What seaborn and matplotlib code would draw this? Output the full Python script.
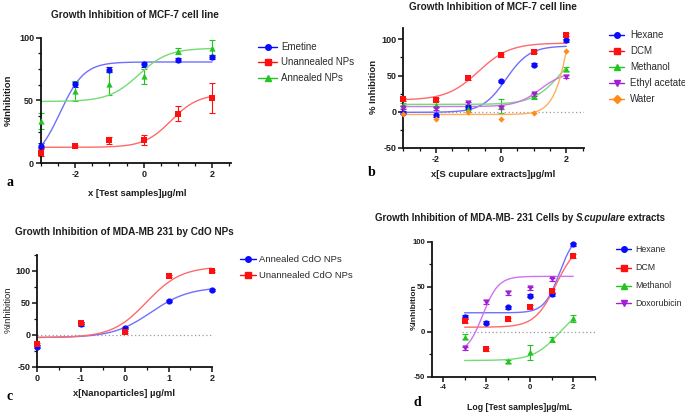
import numpy as np
import pandas as pd
import matplotlib
matplotlib.use('Agg')
import matplotlib.pyplot as plt
import seaborn as sns
from matplotlib.lines import Line2D
from matplotlib.ticker import MultipleLocator, FixedLocator

# ---------------- data ----------------
# Panel a: MCF-7, nanoparticles
xa = [-3, -2, -1, 0, 1, 2]
a_emetine = [13.6, 62.8, 74.5, 78.5, 82.0, 84.3]
a_emetine_err = [2, 2, 2, 2, 1.5, 1.5]
a_unann = [8.2, 13.6, 18.0, 18.0, 39.4, 52.0]
a_unann_err = [3, 1, 3, 4, 6, 12]
a_ann = [33.5, 57.2, 63.3, 69.1, 89.0, 92.0]
a_ann_err = [6.5, 8, 9, 6, 2.5, 6]
# fitted 4PL params (bottom, top, logEC50, hill)
a_fit = {'Emetine': (0, 80.5, -2.44, 1.24),
         'Unannealed NPs': (12.5, 55, 0.8, 1.1),
         'Annealed NPs': (49, 91.5, -0.15, 1.0)}

# Panel b: MCF-7, S. cupulare extracts
xb = [-3, -2, -1, 0, 1, 2]
b_hexane = [-1.4, -5.0, 6.0, 42.5, 65.0, 99.0]
b_dcm = [17.3, 16.3, 46.2, 78.0, 82.6, 106.5]
b_methanol = [9.3, 8.9, 4.2, 8.0, 21.0, 59.0]
b_methanol_err = [2, 2, 2, 10, 3, 3]
b_ethyl = [5.6, 4.2, 11.7, 5.6, 24.3, 48.5]
b_water = [-3.0, -10.0, 0.0, -10.0, -2.3, 84.0]
b_fit = {'Hexane': (-1, 91, 0.15, 1.2),
         'DCM': (16, 95, -0.7, 0.9),
         'Methanol': (10, 100, 1.88, 1.0),
         'Ethyl acetate': (7, 55, 1.2, 1.2),
         'Water': (-4, 296, 2.24, 1.6)}

# Panel c: MDA-MB 231, CdO NPs
xc = [-2, -1, 0, 1, 2]
c_ann = [-18.0, 17.5, 10.4, 52.8, 70.0]
c_ann_err = [3, 3, 1.5, 1.5, 1.5]
c_unann = [-14.5, 19.0, 4.0, 92.0, 99.5]
c_fit = {'Annealed CdO NPs': (-4, 75, 0.6, 1.0),
         'Unannealed CdO NPs': (-4, 107, 0.5, 1.1)}
c_xticklabels = ['0', '-1', '0', '1', '2']

# Panel d: MDA-MB-231, S. cupulare extracts
xd = [-3, -2, -1, 0, 1, 2]
d_hexane = [16.0, 10.0, 27.0, 40.0, 41.5, 97.0]
d_dcm = [11.9, -19.6, 13.7, 27.8, 45.6, 84.0]
d_methanol = [-5.6, np.nan, -33.0, -23.0, -8.5, 14.8]
d_methanol_err = [3, np.nan, 2, 8, 3, 4]
d_doxo = [-18.5, 33.0, 43.3, 48.0, 58.0, np.nan]
d_fit = {'Hexane': (21, 110, 1.37, 1.22),
         'DCM': (5, 100, 1.21, 0.88),
         'Methanol': (-32, 30, 1.37, 0.73),
         'Doxorubicin': (-25, 61.5, -2.17, 1.2)}

# ---------------- style ----------------
sns.set_theme(style='ticks')
plt.rcParams['font.family'] = ['Liberation Sans', 'DejaVu Sans']
plt.rcParams['axes.unicode_minus'] = False
NARROW = ['Liberation Sans Narrow', 'Liberation Sans', 'DejaVu Sans']

BLUE, RED, GREEN, PURPLE, ORANGE = '#0a0aff', '#ff1010', '#22c422', '#a21fd6', '#ff8c1a'
LBLUE, LRED, LGREEN, LPURPLE, LORANGE = '#6f6fff', '#ff6a6a', '#74dc74', '#cf74ef', '#ffae5c'
TXT = '#1e1e1e'

W, H = 685, 416
fig = plt.figure(figsize=(6.85, 4.16), dpi=100)


def add_ax(x0, y0, x1, y1):
    return fig.add_axes([x0 / W, 1 - y1 / H, (x1 - x0) / W, (y1 - y0) / H])


def hill(x, b, t, e, h):
    return b + (t - b) / (1 + 10 ** ((e - x) * h))


def series(ax, x, y, err, params, mk, mc, lc, xr, ms=20):
    x = np.asarray(x, float)
    y = np.asarray(y, float)
    if err is not None:
        e = np.asarray(err, float)
        ok = ~np.isnan(y)
        eb = ax.errorbar(x[ok], y[ok], yerr=e[ok], fmt='none', ecolor=mc,
                         elinewidth=0.8, capsize=2, capthick=0.8, zorder=2)
        for art in eb.get_children():
            art.set_clip_on(False)
    xx = np.linspace(xr[0], xr[1], 300)
    sns.lineplot(x=xx, y=hill(xx, *params), color=lc, lw=1.0, ax=ax,
                 estimator=None, sort=False, zorder=2)
    df = pd.DataFrame({'x': x, 'y': y}).dropna()
    sns.scatterplot(data=df, x='x', y='y', marker=mk, color=mc, s=ms,
                    linewidth=0, ax=ax, zorder=3, clip_on=False)


def style(ax, xlim, ylim, xmaj, xmin, ymaj, ymin, fam=None, lsize=6.5):
    ax.set_xlim(*xlim)
    ax.set_ylim(*ylim)
    ax.xaxis.set_major_locator(FixedLocator(xmaj))
    ax.xaxis.set_minor_locator(MultipleLocator(xmin))
    ax.yaxis.set_major_locator(FixedLocator(ymaj))
    ax.yaxis.set_minor_locator(MultipleLocator(ymin))
    for s in ['top', 'right']:
        ax.spines[s].set_visible(False)
    for s in ['left', 'bottom']:
        ax.spines[s].set_linewidth(1.3)
        ax.spines[s].set_color('#111111')
    ax.tick_params(which='major', direction='out', length=3.5, width=1.1,
                   labelsize=lsize, pad=1.5, colors='#111111', labelcolor=TXT)
    ax.tick_params(which='minor', direction='out', length=2.2, width=0.9, colors='#111111')
    for lab in ax.get_xticklabels() + ax.get_yticklabels():
        lab.set_fontweight('bold')
        if fam:
            lab.set_family(fam)
    ax.set_xlabel('')
    ax.set_ylabel('')
    ax.set_facecolor('none')
    ax.grid(False)


def zero_line(ax, xr):
    sns.lineplot(x=list(xr), y=[0, 0], ax=ax, color='#9a9a9a', lw=0.9,
                 linestyle=(0, (1, 2)), zorder=1, estimator=None)


def ftext(x, y, s, **kw):
    kw.setdefault('color', TXT)
    return fig.text(x / W, 1 - y / H, s, **kw)


def legend(entries, lx0, lx1, tx, ys, fs, fam=None):
    for (lab, mk, mc), y in zip(entries, ys):
        yy = 1 - y / H
        fig.add_artist(Line2D([lx0 / W, lx1 / W], [yy, yy], color=mc, lw=1.0,
                              transform=fig.transFigure))
        fig.add_artist(Line2D([(lx0 + lx1) / 2 / W], [yy], marker=mk, color=mc,
                              ms=4, mec=mc, ls='none', transform=fig.transFigure))
        kw = dict(va='center', ha='left', fontsize=fs, color='#2a2a2a')
        if fam:
            kw['family'] = fam
        ftext(tx, y, lab, **kw)


# ---------------- panel a ----------------
axa = add_ax(41, 37.5, 231, 163)
series(axa, xa, a_emetine, a_emetine_err, a_fit['Emetine'], 'o', BLUE, LBLUE, (-3, 2))
series(axa, xa, a_unann, a_unann_err, a_fit['Unannealed NPs'], 's', RED, LRED, (-3, 2))
series(axa, xa, a_ann, a_ann_err, a_fit['Annealed NPs'], '^', GREEN, LGREEN, (-3, 2))
style(axa, (-3, 2.55), (0, 100), [-2, 0, 2], 0.5, [0, 50, 100], 12.5)
ftext(135, 15, 'Growth Inhibition of MCF-7 cell line', ha='center', va='center',
      fontsize=7.2, fontweight='bold')
ftext(137, 193, 'x [Test samples]µg/ml', ha='center', va='center', fontsize=6.8, fontweight='bold')
ftext(8, 100, '%Inhibition', ha='center', va='center', rotation=90, fontsize=6.8, fontweight='bold')
legend([('Emetine', 'o', BLUE), ('Unannealed NPs', 's', RED), ('Annealed NPs', '^', GREEN)],
       258, 277, 281, [47, 62, 78], 7)

# ---------------- panel b ----------------
axb = add_ax(403.3, 27.9, 584.2, 147.7)
zero_line(axb, (-3, 2.55))
series(axb, xb, b_hexane, [2] * 6, b_fit['Hexane'], 'o', BLUE, LBLUE, (-3, 2))
series(axb, xb, b_dcm, [2] * 6, b_fit['DCM'], 's', RED, LRED, (-3, 2))
series(axb, xb, b_methanol, b_methanol_err, b_fit['Methanol'], '^', GREEN, LGREEN, (-3, 2))
series(axb, xb, b_ethyl, [2] * 6, b_fit['Ethyl acetate'], 'v', PURPLE, LPURPLE, (-3, 2))
series(axb, xb, b_water, None, b_fit['Water'], 'D', ORANGE, LORANGE, (-3, 2), ms=10)
style(axb, (-3, 2.55), (-50, 116), [-2, 0, 2], 0.5, [-50, 0, 50, 100], 25)
ftext(493, 7, 'Growth Inhibition of MCF-7 cell line', ha='center', va='center',
      fontsize=7.2, fontweight='bold')
ftext(493, 175, 'x[S cupulare extracts]µg/ml', ha='center', va='center', fontsize=6.8, fontweight='bold')
ftext(373, 87, '% Inhibition', ha='center', va='center', rotation=90, fontsize=6.8, fontweight='bold')
legend([('Hexane', 'o', BLUE), ('DCM', 's', RED), ('Methanol', '^', GREEN),
        ('Ethyl acetate', 'v', PURPLE), ('Water', 'D', ORANGE)],
       609, 624, 630, [35, 51, 67, 83, 99], 7)

# ---------------- panel c ----------------
axc = add_ax(37.3, 255, 212.3, 367)
zero_line(axc, (-2, 2))
series(axc, xc, c_ann, c_ann_err, c_fit['Annealed CdO NPs'], 'o', BLUE, LBLUE, (-2, 2))
series(axc, xc, c_unann, [1.5] * 5, c_fit['Unannealed CdO NPs'], 's', RED, LRED, (-2, 2))
style(axc, (-2, 2), (-50, 125), [-2, -1, 0, 1, 2], 0.5, [-50, 0, 50, 100], 25)
axc.set_xticklabels(c_xticklabels)
for lab in axc.get_xticklabels():
    lab.set_fontweight('bold')
ftext(124, 232, 'Growth Inhibition of MDA-MB 231 by CdO NPs', ha='center', va='center',
      fontsize=7.2, fontweight='bold')
ftext(124, 394, 'x[Nanoparticles] µg/ml', ha='center', va='center', fontsize=6.8, fontweight='bold')
ftext(8, 310, '%Inhibition', ha='center', va='center', rotation=90, fontsize=6.8)
legend([('Annealed CdO NPs', 'o', BLUE), ('Unannealed CdO NPs', 's', RED)],
       240, 256, 259, [259, 275], 6.8)

# ---------------- panel d ----------------
axd = add_ax(432, 241.7, 595, 376.7)
zero_line(axd, (-3.1, 3))
series(axd, xd, d_hexane, [2] * 6, d_fit['Hexane'], 'o', BLUE, LBLUE, (-3, 2))
series(axd, xd, d_dcm, [2] * 6, d_fit['DCM'], 's', RED, LRED, (-3, 2))
series(axd, xd, d_methanol, d_methanol_err, d_fit['Methanol'], '^', GREEN, LGREEN, (-3, 2))
series(axd, xd, d_doxo, [2] * 6, d_fit['Doxorubicin'], 'v', PURPLE, LPURPLE, (-3, 2))
style(axd, (-4.5, 3), (-50, 100), [-4, -2, 0, 2], 1, [-50, 0, 50, 100], 25, fam=NARROW, lsize=5.6)
ftext(520, 408, 'Log [Test samples]µg/mL', ha='center', va='center', fontsize=6.3,
      fontweight='bold', family=NARROW)
ftext(414, 307, '%Inhibition', ha='center', va='center', rotation=90, fontsize=6.0,
      fontweight='bold', family=NARROW)
legend([('Hexane', 'o', BLUE), ('DCM', 's', RED), ('Methanol', '^', GREEN),
        ('Doxorubicin', 'v', PURPLE)],
       616, 631, 635, [249, 268, 286, 303], 6.3, fam=NARROW)

# mixed-style title for panel d
parts = [('Growth Inhibition of MDA-MB- 231 Cells by ', 'normal'),
         ('S.cupulare', 'italic'), (' extracts', 'normal')]
r = fig.canvas.get_renderer()
objs, widths = [], []
for s, st in parts:
    t = ftext(0, 218, s, ha='left', va='center', fontsize=7.0, fontweight='bold',
              style=st, family=NARROW)
    objs.append(t)
    widths.append(t.get_window_extent(r).width)
x = 520 - sum(widths) / 2
for t, w in zip(objs, widths):
    t.set_x(x / W)
    x += w

# panel letters
for ch, (px, py) in zip('abcd', [(10, 183), (372, 173), (10, 397), (417, 402)]):
    ftext(px, py, ch, ha='center', va='center', fontsize=10, fontweight='bold',
          family=['Liberation Serif', 'DejaVu Serif'], color='black')

fig.savefig('out.png', dpi=100)
